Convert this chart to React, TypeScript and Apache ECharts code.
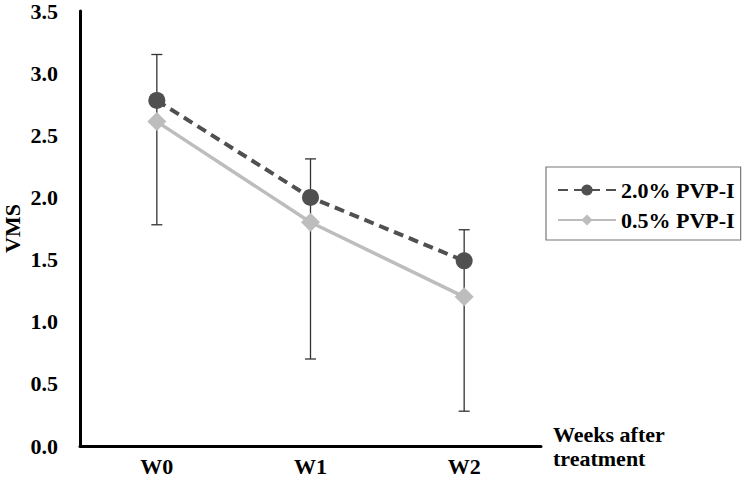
import React, { useEffect, useRef } from "react";
import * as echarts from "echarts";

const categories = ["W0", "W1", "W2"];
const seriesNames = ["2.0% PVP-I", "0.5% PVP-I"];
const pvp20 = [2.78, 2.0, 1.49];
const pvp05 = [2.61, 1.8, 1.2];
const errLow = [1.78, 0.7, 0.28];
const errHigh = [3.15, 2.31, 1.74];
const yTicks = { min: 0, max: 3.5, interval: 0.5 };

const FONT = "Liberation Serif, Times New Roman, serif";

export default function App() {
  const ref = useRef<HTMLDivElement>(null);
  useEffect(() => {
    if (!ref.current) return;
    const chart = echarts.init(ref.current, undefined, { renderer: "svg" });
    const errData = categories.map((_, i) => [i, errLow[i], errHigh[i]]);
    chart.setOption({
      animation: false,
      backgroundColor: "#ffffff",
      textStyle: { fontFamily: FONT },
      grid: { left: 80, right: 215, top: 11, bottom: 36, outerBoundsMode: "none", containLabel: false },
      legend: {
        data: seriesNames,
        orient: "vertical",
        left: 546,
        top: 167,
        padding: [12, 6, 9, 11],
        itemWidth: 58,
        itemHeight: 14,
        itemGap: 8,
        borderColor: "#777777",
        borderWidth: 1.2,
        textStyle: { fontFamily: FONT, fontWeight: "bold", fontSize: 22, color: "#000" },
      },
      xAxis: {
        type: "category",
        data: categories,
        boundaryGap: true,
        axisLine: { lineStyle: { color: "#000", width: 3 } },
        axisTick: { show: false },
        axisLabel: { fontFamily: FONT, fontWeight: "bold", fontSize: 22, color: "#000", margin: 9 },
        name: "Weeks after\ntreatment",
        nameLocation: "end",
        nameGap: 12,
        nameMoveOverlap: false,
        nameTextStyle: {
          fontFamily: FONT,
          fontWeight: "bold",
          fontSize: 22,
          color: "#000",
          align: "left",
          verticalAlign: "middle",
          lineHeight: 24,
          padding: [0, 0, 4, 0],
        },
      },
      yAxis: {
        type: "value",
        min: yTicks.min,
        max: yTicks.max,
        interval: yTicks.interval,
        splitLine: { show: false },
        axisLine: { show: true, lineStyle: { color: "#000", width: 3 } },
        axisTick: { show: false },
        axisLabel: {
          fontFamily: FONT,
          fontWeight: "bold",
          fontSize: 22,
          color: "#000",
          margin: 22,
          formatter: (v: number) => v.toFixed(1),
        },
        name: "VMS",
        nameLocation: "middle",
        nameRotate: 90,
        nameGap: 57,
        nameMoveOverlap: false,
        nameTextStyle: { fontFamily: FONT, fontWeight: "bold", fontSize: 22, color: "#000" },
      },
      series: [
        {
          type: "custom",
          name: "err",
          data: errData,
          encode: { x: 0, y: [1, 2] },
          z: 1,
          renderItem: (params: any, api: any) => {
            const i = api.value(0);
            const lo = api.coord([i, api.value(1)]);
            const hi = api.coord([i, api.value(2)]);
            const cap = 5.5;
            const style = { stroke: "#333333", lineWidth: 1.3 };
            return {
              type: "group",
              children: [
                { type: "line", shape: { x1: lo[0], y1: lo[1], x2: hi[0], y2: hi[1] }, style },
                { type: "line", shape: { x1: lo[0] - cap, y1: lo[1], x2: lo[0] + cap, y2: lo[1] }, style },
                { type: "line", shape: { x1: hi[0] - cap, y1: hi[1], x2: hi[0] + cap, y2: hi[1] }, style },
              ],
            };
          },
        },
        {
          type: "line",
          name: seriesNames[1],
          data: pvp05,
          z: 3,
          symbol: "diamond",
          symbolSize: 19,
          lineStyle: { color: "#bdbdbd", width: 3.5 },
          itemStyle: { color: "#bdbdbd" },
        },
        {
          type: "line",
          name: seriesNames[0],
          data: pvp20,
          z: 4,
          symbol: "circle",
          symbolSize: 17,
          lineStyle: { color: "#505050", width: 4, type: [10, 6] },
          itemStyle: { color: "#505050" },
        },
      ],
    });
    return () => chart.dispose();
  }, []);
  return <div ref={ref} style={{ width: 756, height: 482, position: "absolute", left: 0, top: 0 }} />;
}
